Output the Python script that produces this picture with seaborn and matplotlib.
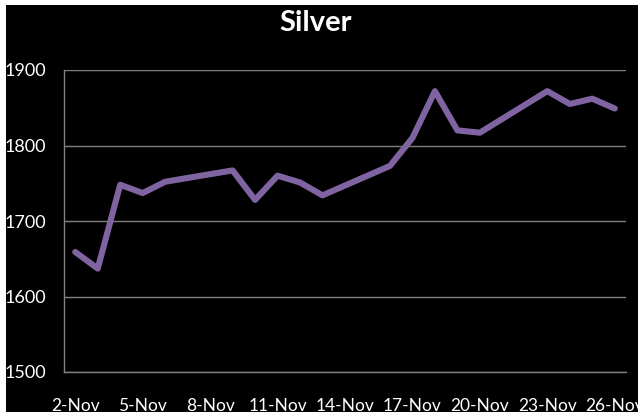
import matplotlib
matplotlib.use('Agg')
import matplotlib.pyplot as plt
from matplotlib.patches import Rectangle
import seaborn as sns

# 每日銀價 (11 月,週末無資料)
days = [2, 3, 4, 5, 6, 9, 10, 11, 12, 13, 16, 17, 18, 19, 20, 23, 24, 25, 26]
silver = [1659, 1637, 1748, 1737, 1752, 1767, 1728, 1760, 1751, 1734,
          1773, 1810, 1872, 1820, 1817, 1872, 1855, 1862, 1849]

label_days = [2, 5, 8, 11, 14, 17, 20, 23, 26]
tick_labels = ['2-Nov', '5-Nov', '8-Nov', '11-Nov', '14-Nov',
               '17-Nov', '20-Nov', '23-Nov', '26-Nov']
y_ticks = [1500, 1600, 1700, 1800, 1900]

sns.set_theme(style='dark')
plt.rcParams['font.family'] = ['Lato', 'DejaVu Sans']

fig = plt.figure(figsize=(6.38, 4.12), dpi=100, facecolor='white')
# 黑色背景板 (左邊與上方留白邊)
fig.patches.append(Rectangle((6 / 638, 0), 1, 1 - 5 / 412, transform=fig.transFigure,
                             facecolor='black', edgecolor='none', zorder=-5))

ax = fig.add_axes([64 / 638, 40 / 412, 562 / 638, 302 / 412])
ax.set_zorder(2)
ax.set_facecolor('black')

sns.lineplot(x=days, y=silver, color='#8064A2', linewidth=4.4, ax=ax)
ax.lines[0].set_solid_joinstyle('round')

ax.set_xlim(1.5, 26.5)
ax.set_ylim(1500, 1900)

# 主刻度在日期邊界,標籤放在日期中間
ax.set_xticks([d - 0.5 for d in label_days])
ax.set_xticklabels([])
ax.set_xticks(label_days, minor=True)
ax.set_xticklabels(tick_labels, minor=True)
ax.tick_params(axis='x', which='major', length=7, width=1, color='#808080', direction='out')
ax.tick_params(axis='x', which='minor', length=0, pad=19, labelsize=12.5, labelcolor='white')

ax.set_yticks(y_ticks)
ax.set_yticklabels([str(v) for v in y_ticks])
ax.tick_params(axis='y', length=6, width=1, color='#808080', direction='out',
               pad=7, labelsize=13, labelcolor='white')

ax.grid(axis='y', color='#808080', linewidth=1)
ax.grid(axis='x', visible=False)
for side in ['top', 'right']:
    ax.spines[side].set_visible(False)
for side in ['left', 'bottom']:
    ax.spines[side].set_visible(True)
    ax.spines[side].set_color('#808080')
    ax.spines[side].set_linewidth(1)

fig.text(316 / 638, 1 - 31 / 412, 'Silver', ha='center', va='baseline',
         fontsize=21, fontweight='bold', color='white', zorder=3)

fig.savefig('out.png', dpi=100, facecolor=fig.get_facecolor())
